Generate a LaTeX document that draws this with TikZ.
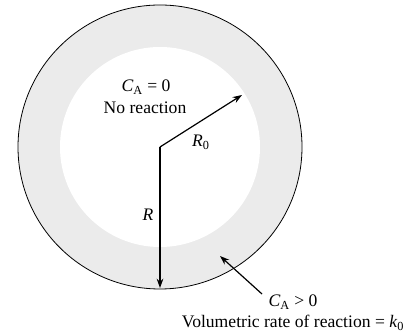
\documentclass[tikz,border=0pt]{standalone}
\usepackage{fontspec}
\setmainfont{Liberation Serif}
\usetikzlibrary{arrows.meta}

\begin{document}
\begin{tikzpicture}[x=0.75pt, y=0.75pt,
    radius/.style={-{Stealth[length=7pt,width=5pt]}, line width=0.9pt},
    lbl/.style={font=\fontsize{13.2}{15}\selectfont, inner sep=0pt}]
      \useasboundingbox (0,0) rectangle (420,334);

      % Shell and reaction-free core
      \coordinate (O) at (160,187);
      \fill[black!8] (O) circle (142);
      \fill[white] (O) circle (100);
      \draw[line width=0.6pt] (O) circle (142);

      % Radii
      \coordinate (Rtip) at (160,46);
      \coordinate (R0tip) at (242,239);
      \draw[radius] (O) -- (Rtip);
      \draw[radius] (O) -- (R0tip);
      \node[lbl] (Rlab) at (148,119) {\textit{R}};
      \node[lbl] (R0lab) at (201,192) {\textit{R}\textsubscript{0}};

      % Core labels
      \node[lbl] (core) at (146,247) {\textit{C}\textsubscript{A} = 0};
      \node[lbl] (norx) at (145,226) {No reaction};

      % Shell labels and pointer
      \node[lbl] (shell) at (293,32) {\textit{C}\textsubscript{A} > 0};
      \node[lbl] (rate) at (293,11) {Volumetric rate of reaction = \textit{k}\textsubscript{0}};
      \coordinate (ptr) at (262,40);
      \coordinate (ring) at (220,78);
      \draw[radius] (ptr) -- (ring);
    \end{tikzpicture}
\end{document}
